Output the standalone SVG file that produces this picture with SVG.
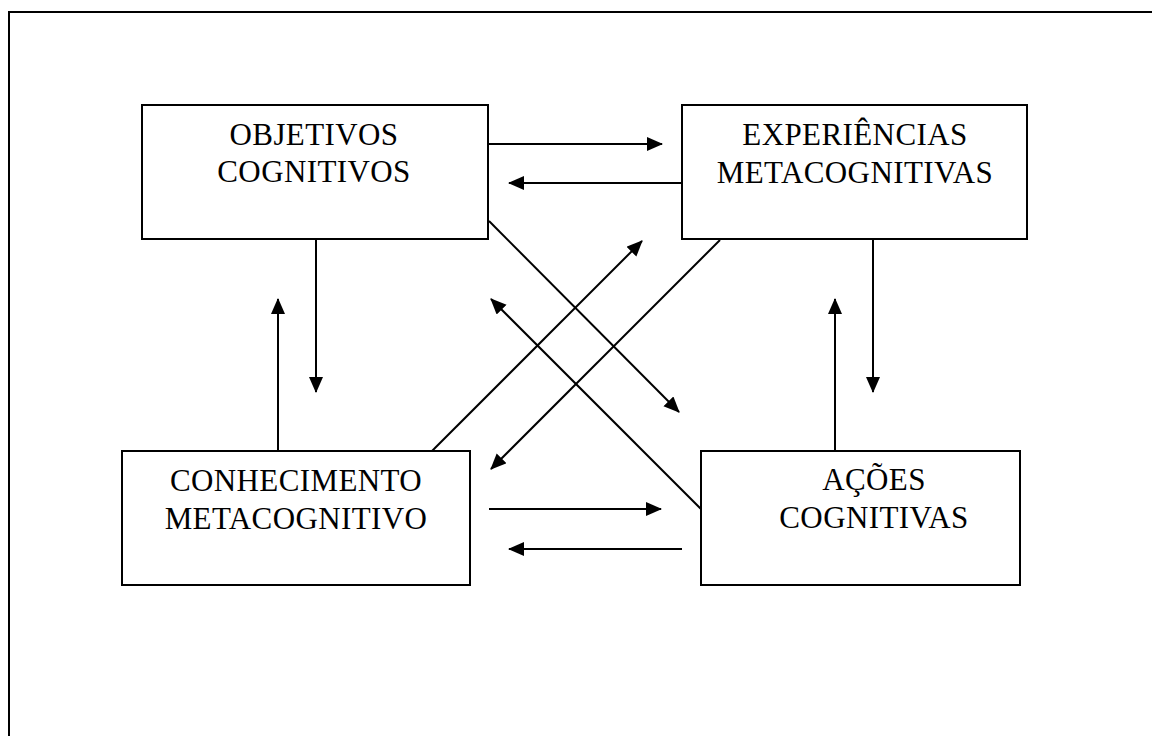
<svg xmlns="http://www.w3.org/2000/svg" width="1152" height="736" viewBox="0 0 1152 736">
<style>
.box{fill:#fff;stroke:#000;stroke-width:2}
.lbl{font-family:"Liberation Serif","Times New Roman",serif;font-size:31px;letter-spacing:0.4px;fill:#000;text-anchor:middle}
.con line{stroke:#000;stroke-width:2;fill:none}
.arr{marker-end:url(#ah)}
</style>
<defs>
<marker id="ah" markerUnits="userSpaceOnUse" markerWidth="17" markerHeight="15" refX="15" refY="7" orient="auto" viewBox="0 0 17 15">
<path d="M0,0 L16,7 L0,14 z" fill="#000"/>
</marker>
</defs>
<rect x="9" y="12" width="1200" height="800" fill="none" stroke="#000" stroke-width="2"/>
<g id="n-objetivos">
<rect class="box" x="142" y="105" width="346" height="134"/>
<text class="lbl" x="314" y="145">OBJETIVOS</text>
<text class="lbl" x="314" y="182">COGNITIVOS</text>
</g>
<g id="n-experiencias">
<rect class="box" x="682" y="105" width="345" height="134"/>
<text class="lbl" x="855" y="145">EXPERIÊNCIAS</text>
<text class="lbl" x="855" y="183">METACOGNITIVAS</text>
</g>
<g id="n-conhecimento">
<rect class="box" x="122" y="451" width="348" height="134"/>
<text class="lbl" x="296" y="491">CONHECIMENTO</text>
<text class="lbl" x="296" y="529">METACOGNITIVO</text>
</g>
<g id="n-acoes">
<rect class="box" x="701" y="451" width="319" height="134"/>
<text class="lbl" x="874" y="490">AÇÕES</text>
<text class="lbl" x="874" y="528">COGNITIVAS</text>
</g>
<g id="connectors" class="con">
<line class="arr" x1="489" y1="144" x2="662" y2="144"/>
<line class="arr" x1="682" y1="183" x2="509" y2="183"/>
<line class="arr" x1="489" y1="509" x2="661" y2="509"/>
<line class="arr" x1="682" y1="549" x2="509" y2="549"/>
<line class="arr" x1="316" y1="240" x2="316" y2="392"/>
<line class="arr" x1="278" y1="451" x2="278" y2="299"/>
<line class="arr" x1="873" y1="240" x2="873" y2="392"/>
<line class="arr" x1="835" y1="451" x2="835" y2="299"/>
<line class="arr" x1="489" y1="221" x2="679" y2="412"/>
<line class="arr" x1="701" y1="509" x2="491" y2="299"/>
<line class="arr" x1="432" y1="451" x2="642" y2="241"/>
<line class="arr" x1="720" y1="240" x2="491" y2="469"/>
</g>
</svg>
